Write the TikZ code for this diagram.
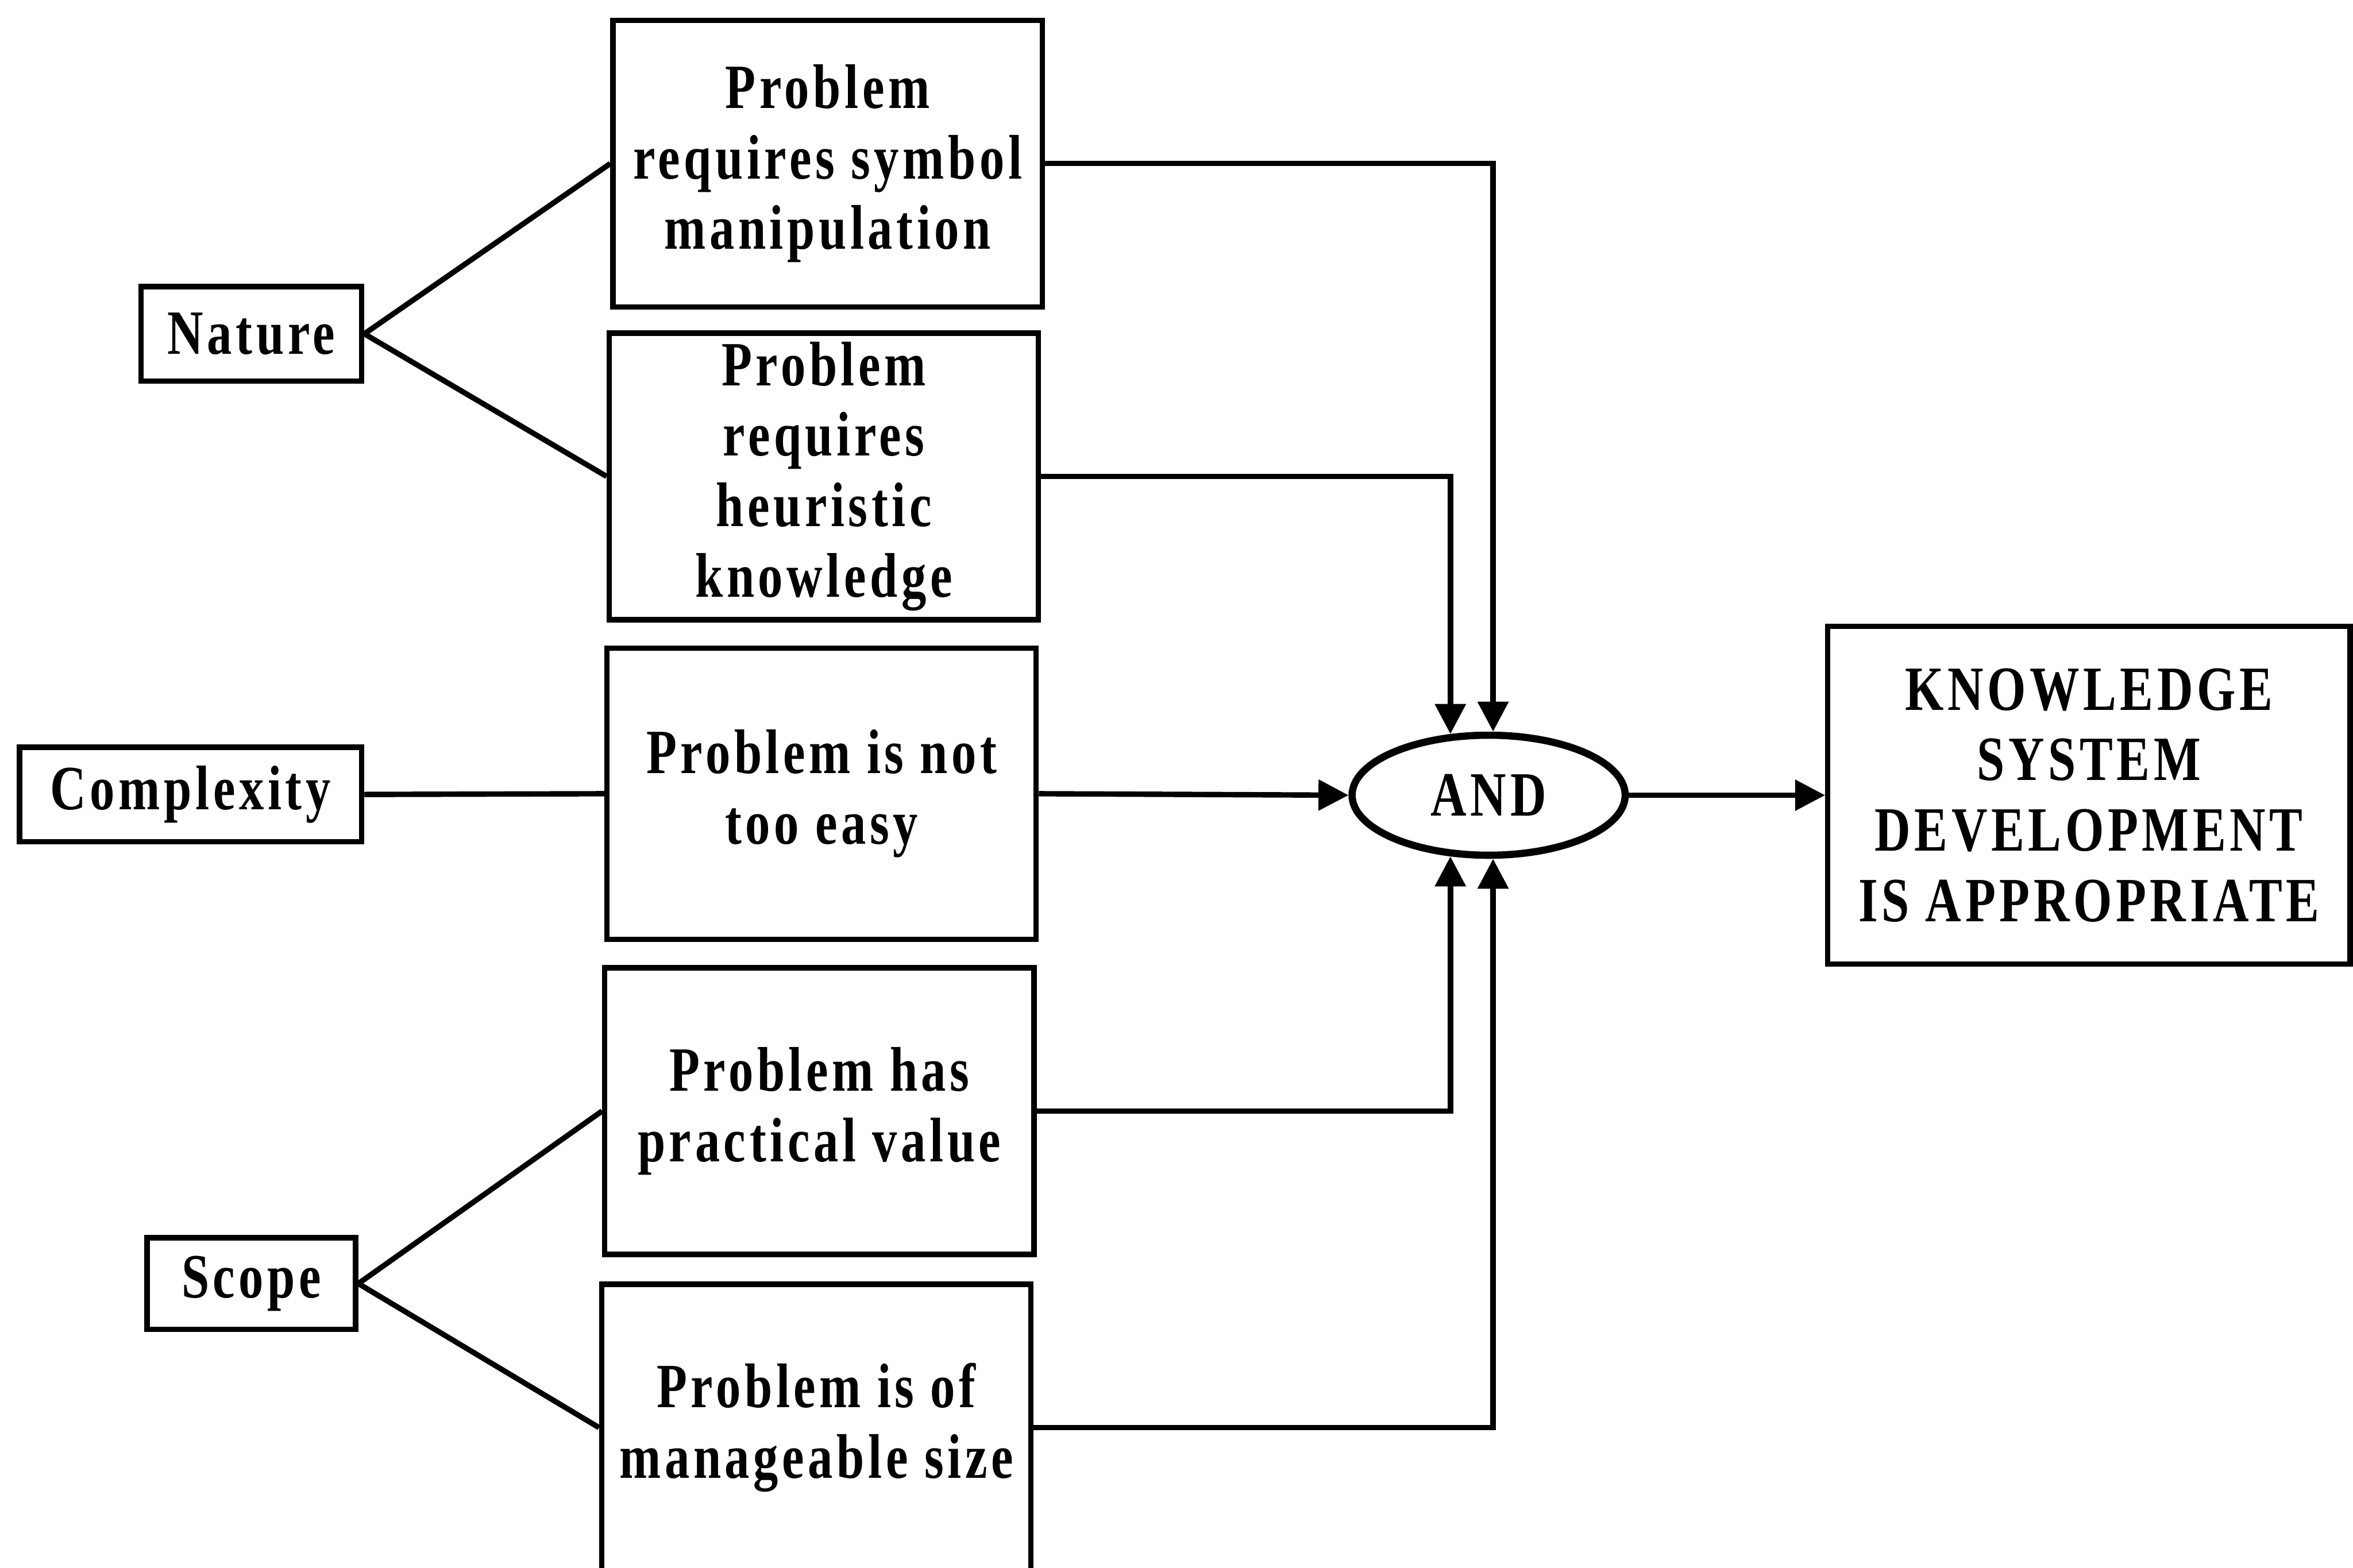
\documentclass[tikz,border=0pt]{standalone}
\usepackage{fontspec}
\newfontfamily\figfont{Liberation Serif}[FakeStretch=0.79,LetterSpace=6]
\usetikzlibrary{shapes.geometric,arrows.meta}

\tikzset{every picture/.style={line width=1.8pt}}
\tikzset{
  txt/.style={font=\figfont\bfseries\fontsize{21}{23.5}\selectfont, align=center, inner sep=0pt},
  crit/.style={txt, draw, minimum height=31.5pt},
  cond/.style={txt, draw, minimum width=143pt, minimum height=95.5pt},
  gate/.style={txt, draw, ellipse, line width=2.4pt, minimum width=91pt, minimum height=40pt},
  tip/.style={-{Triangle[length=10pt,width=10pt]}}
}

\begin{document}
\begin{tikzpicture}[x=0.5pt,y=0.5pt,yscale=-1,xscale=1]
	\useasboundingbox (0,0) rectangle (1568,1045);

	% Criteria
	\node[crit, minimum width=73.5pt] (nature) at (167.5,222.5) {Nature};
	\node[crit, minimum width=114pt] (complexity) at (127,529.5) {Complexity};
	\node[crit, minimum width=69.5pt, minimum height=30.5pt] (scope) at (167.5,855.5) {Scope};

	% Conditions
	\node[cond] (symb) at (551.5,109) {Problem\\requires symbol\\manipulation};
	\node[cond] (heur) at (549,317.5) {Problem\\requires\\heuristic\\knowledge};
	\node[cond, minimum height=97pt] (easy) at (547.5,529) {Problem is not\\too easy};
	\node[cond] (pract) at (546,740.5) {Problem has\\practical value};
	\node[cond] (size) at (544,951.5) {Problem is of\\manageable size};

	% AND gate and result
	\node[gate] (and) at (992,530) {AND};
	\node[txt, draw, minimum width=174pt, minimum height=112.5pt] (result) at (1392,530) {KNOWLEDGE\\SYSTEM\\DEVELOPMENT\\IS APPROPRIATE};

	% Straight Lines
	\draw (nature.east) -- (symb.west);
	\draw (nature.east) -- (heur.west);
	\draw (complexity.east) -- (easy.west);
	\draw (scope.east) -- (pract.west);
	\draw (scope.east) -- (size.west);

	% Arrows into the gate
	\draw[tip] (symb.east) -| (and.86);
	\draw[tip] (heur.east) -| (and.122);
	\draw[tip] (easy.east) -- (and.west);
	\draw[tip] (pract.east) -| (and.238);
	\draw[tip] (size.east) -| (and.274);
	\draw[tip] (and.east) -- (result.west);

\end{tikzpicture}
\end{document}
